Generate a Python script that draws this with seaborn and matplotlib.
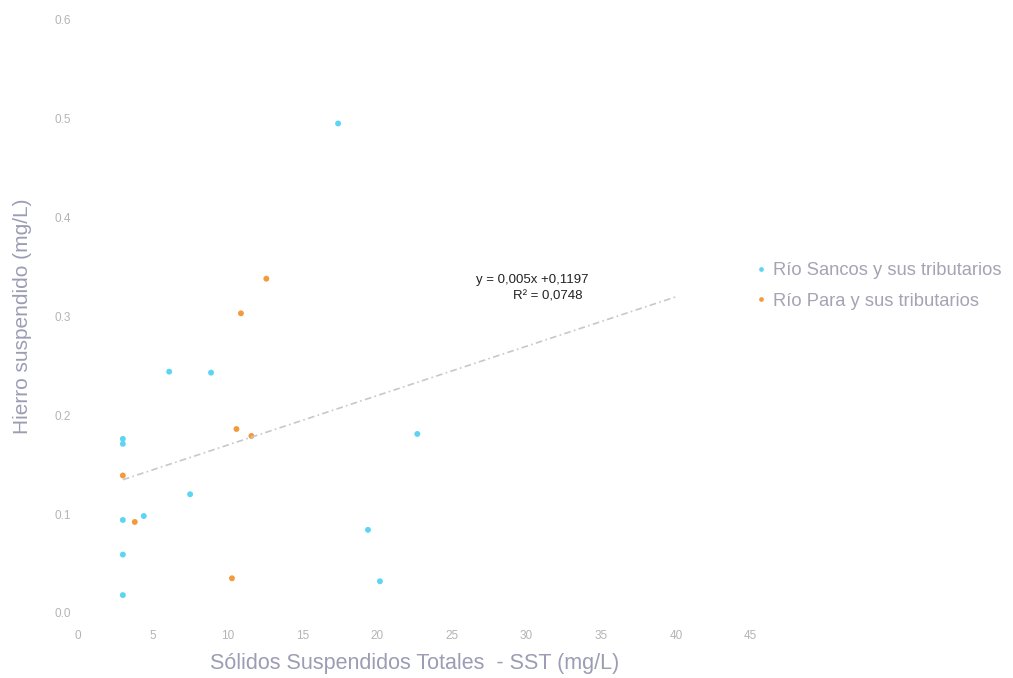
"""Scatter of suspended iron vs total suspended solids, two river systems, with linear trend."""
import numpy as np
import pandas as pd
import seaborn as sns
import matplotlib.pyplot as plt

# Step 1: data
sancos_sst = [17.4, 6.1, 8.9, 3.0, 3.0, 7.5, 3.0, 4.4, 3.0, 3.0, 22.7, 19.4, 20.2]
sancos_fe = [0.495, 0.244, 0.243, 0.176, 0.171, 0.120, 0.094, 0.098, 0.059, 0.018, 0.181, 0.084, 0.032]
para_sst = [12.6, 10.9, 10.6, 11.6, 3.0, 3.8, 10.3]
para_fe = [0.338, 0.303, 0.186, 0.179, 0.139, 0.092, 0.035]
series_names = ["Río Sancos y sus tributarios", "Río Para y sus tributarios"]
slope, intercept, r2 = 0.005, 0.1197, 0.0748
trend_x = [3, 40]

df = pd.DataFrame({
    "sst": sancos_sst + para_sst,
    "fe": sancos_fe + para_fe,
    "serie": [series_names[0]] * len(sancos_sst) + [series_names[1]] * len(para_sst),
})

# Step 2: figure
sns.set_style("white")
plt.rcParams["font.family"] = ["Liberation Sans", "DejaVu Sans"]
fig = plt.figure(figsize=(10.13, 6.78), dpi=100)
ax = fig.add_axes([0.077, 0.096, 0.664, 0.875])

sns.scatterplot(data=df, x="sst", y="fe", hue="serie",
                palette=["#5cd4f2", "#f59a3c"], s=18, linewidth=0, ax=ax)

# trend line from the fitted equation
tx = np.array(trend_x)
ax.plot(tx, slope * tx + intercept, color="#c8c8c8", lw=1.2, ls=(0, (4, 2, 1, 2)))
ax.text(30.4, 0.337, "y = 0,005x +0,1197", fontsize=9.5, color="#222222",
        ha="center", va="center")
ax.text(31.4, 0.320, "R² = 0,0748", fontsize=9.5, color="#222222",
        ha="center", va="center")

# Step 3: axes
ax.set_xlim(0, 45)
ax.set_ylim(0, 0.6)
ax.set_xticks(range(0, 46, 5))
ax.set_yticks([0, 0.1, 0.2, 0.3, 0.4, 0.5, 0.6])
ax.set_yticklabels(["0.0", "0.1", "0.2", "0.3", "0.4", "0.5", "0.6"])
ax.tick_params(axis="x", pad=12)
ax.tick_params(axis="y", pad=5)
ax.tick_params(colors="#b4b4b4", labelsize=8.5, length=0)
for sp in ax.spines.values():
    sp.set_visible(False)
ax.set_xlabel("Sólidos Suspendidos Totales  - SST (mg/L)", fontsize=15.5, color="#9c9cb4", labelpad=8)
ax.set_ylabel("Hierro suspendido (mg/L)", fontsize=15, color="#9c9cb4", labelpad=16)

leg = ax.legend(loc="center left", bbox_to_anchor=(1.0, 0.551), frameon=False,
                fontsize=13.2, handlelength=0.7, handletextpad=0.3, markerscale=0.8,
                labelspacing=0.75, borderaxespad=0.0, borderpad=0.2)
for t in leg.get_texts():
    t.set_color("#a4a4b4")

# Step 4: save
fig.savefig("out.png", dpi=100)
